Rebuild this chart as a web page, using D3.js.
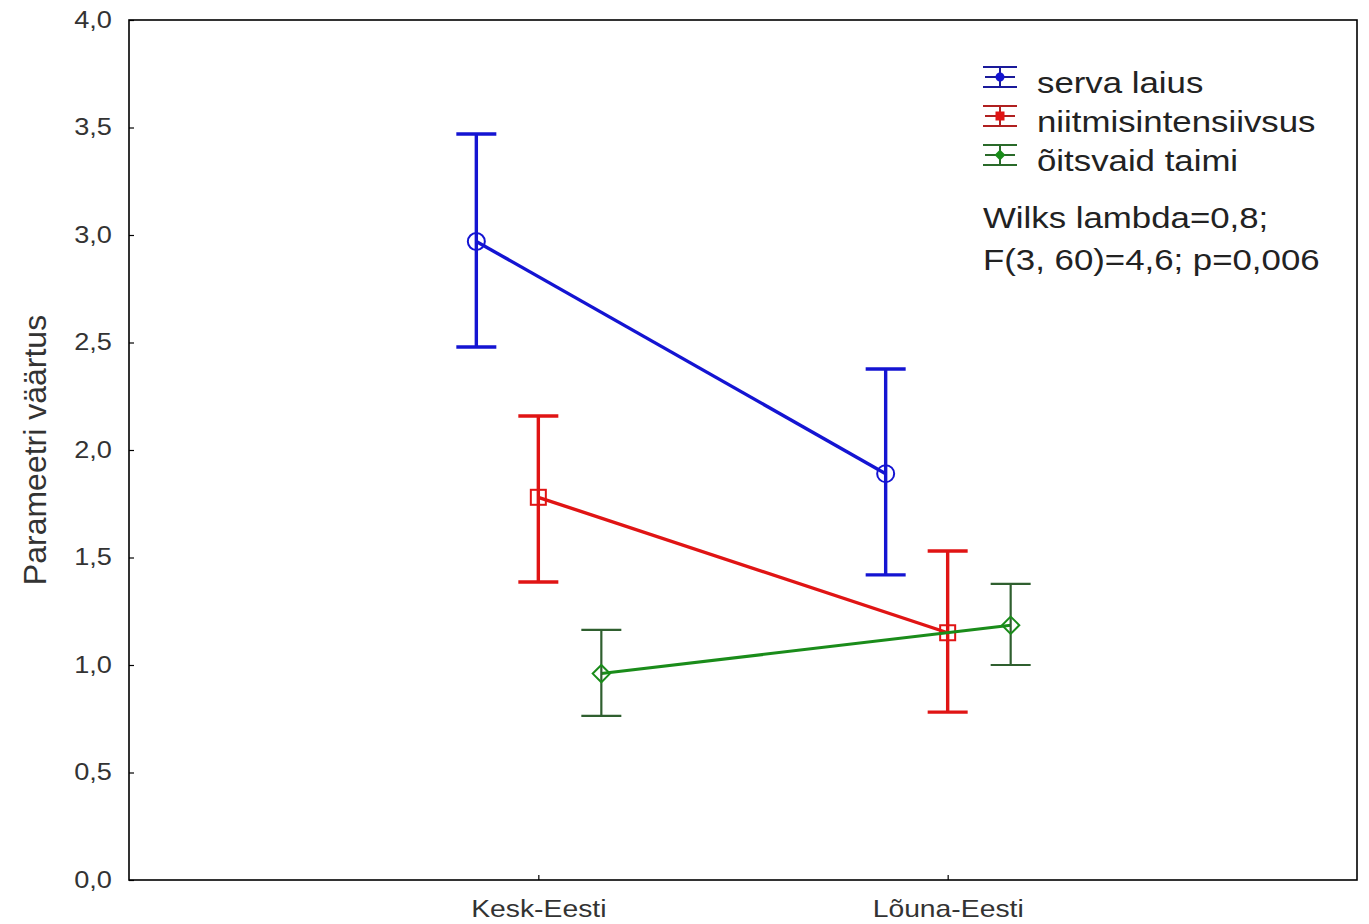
<!DOCTYPE html>
<html><head><meta charset="utf-8">
<script src="https://cdn.jsdelivr.net/npm/d3@7"></script>
<style>body{margin:0;background:#fff;} text{font-family:"Liberation Sans",Arial,sans-serif;}</style>
</head><body>
<svg id="chart" width="1369" height="924"></svg>
<script>
const categories = ["Kesk-Eesti", "Lõuna-Eesti"];
const seriesNames = ["serva laius", "niitmisintensiivsus", "õitsvaid taimi"];
const seriesMean = [[2.97, 1.89], [1.78, 1.15], [0.96, 1.185]];
const seriesHigh = [[3.47, 2.377], [2.158, 1.53], [1.163, 1.377]];
const seriesLow = [[2.479, 1.419], [1.386, 0.781], [0.763, 1.0]];
const yTicks = [0, 0.5, 1, 1.5, 2, 2.5, 3, 3.5, 4];
const statsLines = ["Wilks lambda=0,8;", "F(3, 60)=4,6; p=0,006"];

const colors = ["#1414d2", "#e01414", "#1a8c1a"];
const whiskerColors = ["#1414d2", "#e01414", "#2f5f2f"];
const iconColors = ["#1a1a9a", "#b02020", "#2a6a2a"];
const markers = ["circle", "square", "diamond"];
const offsets = [-62, 0, 63];
const SX = 1.18; // horizontal text stretch seen in the reference

const svg = d3.select("#chart");
const L = 129, R = 1357, T = 20, B = 880;
const x = d3.scalePoint().domain(categories).range([L, R]).padding(1);
const y = d3.scaleLinear().domain([0, 4]).range([B, T]);
const FONT = "'Liberation Sans',Arial,sans-serif";

// frame
svg.append("rect").attr("x", L).attr("y", T).attr("width", R - L).attr("height", B - T)
  .attr("fill", "none").attr("stroke", "#000").attr("stroke-width", 1.6);

// y axis
const yAxis = svg.append("g").attr("transform", `translate(${L},0)`)
  .call(d3.axisLeft(y).tickValues(yTicks).tickSize(-5).tickPadding(14.5)
    .tickFormat(d => d3.format(".1f")(d).replace(".", ",")));
yAxis.select(".domain").remove();
yAxis.selectAll("line").attr("stroke", "#000").attr("stroke-width", 1.2);
yAxis.selectAll("text").attr("font-size", 23).attr("fill", "#333")
  .attr("transform", `scale(${SX},1)`).style("font-family", FONT);

// x axis
const xAxis = svg.append("g").attr("transform", `translate(0,${B})`)
  .call(d3.axisBottom(x).tickSize(-5).tickPadding(20));
xAxis.select(".domain").remove();
xAxis.selectAll("line").attr("stroke", "#000").attr("stroke-width", 1.2);
xAxis.selectAll("text").attr("font-size", 24).attr("fill", "#333")
  .attr("transform", `scale(${SX},1)`).style("font-family", FONT);

// y label
svg.append("text").attr("transform", `translate(46,${(T + B) / 2}) rotate(-90)`)
  .attr("text-anchor", "middle").attr("font-size", 32).attr("fill", "#333")
  .text("Parameetri väärtus");

function drawMarker(g, type, cx, cy, color, size, fill) {
  if (type === "circle") {
    g.append("circle").attr("cx", cx).attr("cy", cy).attr("r", size)
      .attr("fill", fill || "none").attr("stroke", color).attr("stroke-width", 2);
  } else if (type === "square") {
    g.append("rect").attr("x", cx - size).attr("y", cy - size).attr("width", size * 2).attr("height", size * 2)
      .attr("fill", fill || "none").attr("stroke", color).attr("stroke-width", 2);
  } else {
    const s = size * 1.15;
    g.append("path").attr("d", `M${cx},${cy - s}L${cx + s},${cy}L${cx},${cy + s}L${cx - s},${cy}Z`)
      .attr("fill", fill || "none").attr("stroke", color).attr("stroke-width", 2);
  }
}

seriesNames.forEach((name, i) => {
  const g = svg.append("g");
  const thick = i === 2 ? 2.2 : 3.4;
  const pts = categories.map((c, j) => ({ x: x(c) + offsets[i], m: seriesMean[i][j], hi: seriesHigh[i][j], lo: seriesLow[i][j] }));
  g.append("path").attr("d", d3.line().x(d => d.x).y(d => y(d.m))(pts))
    .attr("fill", "none").attr("stroke", colors[i]).attr("stroke-width", i === 2 ? 3 : 3.4);
  pts.forEach(p => {
    g.append("line").attr("x1", p.x).attr("x2", p.x).attr("y1", y(p.hi)).attr("y2", y(p.lo))
      .attr("stroke", whiskerColors[i]).attr("stroke-width", thick);
    [p.hi, p.lo].forEach(v => {
      g.append("line").attr("x1", p.x - 20).attr("x2", p.x + 20).attr("y1", y(v)).attr("y2", y(v))
        .attr("stroke", whiskerColors[i]).attr("stroke-width", thick);
    });
    drawMarker(g, markers[i], p.x, y(p.m), colors[i], i === 0 ? 8.5 : 7.5);
  });
});

// legend
const legY = [77, 116, 155];
seriesNames.forEach((name, i) => {
  const g = svg.append("g");
  const cx = 1000, cy = legY[i];
  const c = iconColors[i];
  g.append("line").attr("x1", cx).attr("x2", cx).attr("y1", cy - 10).attr("y2", cy + 10).attr("stroke", c).attr("stroke-width", 2);
  [-10, 10].forEach(dy => g.append("line").attr("x1", cx - 17).attr("x2", cx + 17).attr("y1", cy + dy).attr("y2", cy + dy)
    .attr("stroke", c).attr("stroke-width", 2));
  g.append("line").attr("x1", cx - 15).attr("x2", cx + 15).attr("y1", cy).attr("y2", cy)
    .attr("stroke", c).attr("stroke-width", 2);
  drawMarker(g, markers[i], cx, cy, colors[i], 3.5, colors[i]);
  g.append("text").attr("transform", `translate(1037,${cy + 16}) scale(${SX},1)`)
    .attr("font-size", 29.5).attr("fill", "#222").text(name);
});
statsLines.forEach((t, i) => {
  svg.append("text").attr("transform", `translate(983,${228 + i * 42}) scale(${SX},1)`)
    .attr("font-size", 29.5).attr("fill", "#222").text(t);
});
</script>
</body></html>
